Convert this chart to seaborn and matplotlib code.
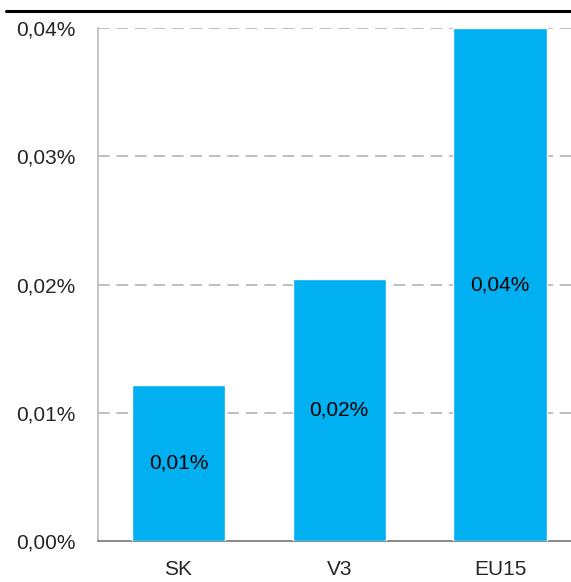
import matplotlib
matplotlib.use("Agg")
import matplotlib.pyplot as plt
from matplotlib.lines import Line2D
from matplotlib.ticker import FixedLocator, FuncFormatter
import seaborn as sns
import pandas as pd

# data
regions = ["SK", "V3", "EU15"]
shares = [0.0122, 0.0204, 0.0400]
labels = ["0,01%", "0,02%", "0,04%"]
yticks = [0.0, 0.01, 0.02, 0.03, 0.04]

sns.set_style("white")
plt.rcParams['font.family'] = ['Liberation Sans Narrow', 'Liberation Sans', 'DejaVu Sans']

df = pd.DataFrame({"region": regions, "share": shares})

fig = plt.figure(figsize=(5.71, 5.82), dpi=100)
ax = fig.add_axes([0.1716, 0.0704, 0.845, 0.8815])

sns.barplot(data=df, x="region", y="share", color="#00B0F0", width=0.58,
            saturation=1, ax=ax, zorder=3)

for i, (v, lab) in enumerate(zip(shares, labels)):
    ax.text(i, v / 2, lab, ha='center', va='center', fontsize=15, color='black', zorder=4)

ax.set_xlim(-0.5, 2.5)
ax.set_ylim(0, 0.04)
ax.set_yticks(yticks)
ax.yaxis.set_major_formatter(FuncFormatter(lambda v, p: f"{v:.2f}%".replace('.', ',')))
ax.set_xlabel('')
ax.set_ylabel('')

# y grid dashed
ax.grid(False)
for t in yticks[1:]:
    ax.axhline(t, color='#BFBFBF', linestyle=(0, (6, 3.5)), linewidth=1.4, zorder=1)

# tick marks between categories
ax.xaxis.set_minor_locator(FixedLocator([-0.5, 0.5, 1.5, 2.5]))
ax.tick_params(axis='x', which='major', length=0, labelsize=15, pad=14)
ax.tick_params(axis='x', which='minor', length=6, width=1, color='#808080', direction='out')
ax.tick_params(axis='y', length=0, labelsize=15, pad=16)

for side in ['top', 'right']:
    ax.spines[side].set_visible(False)
ax.spines['left'].set_color('#BFBFBF')
ax.spines['left'].set_linewidth(1.3)
ax.spines['bottom'].set_color('#808080')
ax.spines['bottom'].set_linewidth(1.3)

# black rule at top of the figure
fig.add_artist(Line2D([6 / 571, 1.0], [1 - 11 / 582, 1 - 11 / 582],
                      color='black', linewidth=2.2, transform=fig.transFigure))

plt.savefig("out.png", dpi=100)
plt.close()
